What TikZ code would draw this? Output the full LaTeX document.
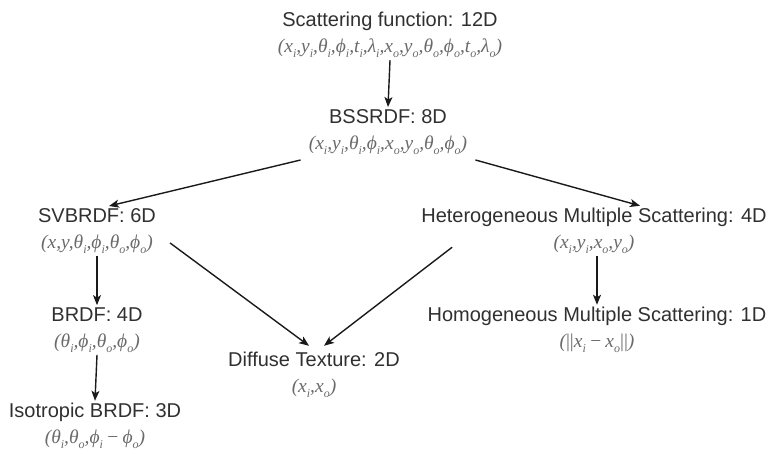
\documentclass[tikz,border=0pt]{standalone}
\usepackage{fontspec}
\setmainfont{Liberation Sans}
\newfontfamily\varfont{Liberation Serif}
\usetikzlibrary{arrows.meta,calc}
\definecolor{titlegray}{HTML}{303030}
\definecolor{mathgray}{HTML}{6A6A6A}
\definecolor{linegray}{HTML}{1A1A1A}
% italic variable with a lowered subscript
\newcommand{\vsub}[2]{#1\raisebox{-0.28em}{\fontsize{12}{12}\selectfont#2}}
% second line of every entry: the list of variables
\newcommand{\vars}[1]{{\color{mathgray}\varfont\itshape\fontsize{19.5}{19.5}\selectfont#1}}
\begin{document}
\begin{tikzpicture}[x=1pt,y=-1pt,
  entry/.style={align=center,inner sep=2pt,text=titlegray,
    font=\fontsize{20}{26}\selectfont},
  arr/.style={draw=linegray,line width=1.4pt,
    -{Stealth[length=10pt,width=8pt,inset=2.5pt]}}]
\useasboundingbox (0,0) rectangle (773,453);

% levels of the taxonomy
\node[entry] (scat) at (390,35) {Scattering function: 12D\\
  \vars{(\vsub{x}{i},\vsub{y}{i},\vsub{θ}{i},\vsub{ϕ}{i},\vsub{t}{i},\vsub{λ}{i},\vsub{x}{o},\vsub{y}{o},\vsub{θ}{o},\vsub{ϕ}{o},\vsub{t}{o},\vsub{λ}{o})}};
\node[entry] (bss) at (388,132) {BSSRDF: 8D\\
  \vars{(\vsub{x}{i},\vsub{y}{i},\vsub{θ}{i},\vsub{ϕ}{i},\vsub{x}{o},\vsub{y}{o},\vsub{θ}{o},\vsub{ϕ}{o})}};
\node[entry] (sv) at (97,231) {SVBRDF: 6D\\
  \vars{(x,y,\vsub{θ}{i},\vsub{ϕ}{i},\vsub{θ}{o},\vsub{ϕ}{o})}};
\node[entry] (het) at (594,231) {Heterogeneous Multiple Scattering: 4D\\
  \vars{(\vsub{x}{i},\vsub{y}{i},\vsub{x}{o},\vsub{y}{o})}};
\node[entry] (brdf) at (97,330) {BRDF: 4D\\
  \vars{(\vsub{θ}{i},\vsub{ϕ}{i},\vsub{θ}{o},\vsub{ϕ}{o})}};
\node[entry] (iso) at (95,426) {Isotropic BRDF: 3D\\
  \vars{(\vsub{θ}{i},\vsub{θ}{o},\vsub{ϕ}{i}\,−\,\vsub{ϕ}{o})}};
\node[entry] (diff) at (314,375) {Diffuse Texture: 2D\\
  \vars{(\vsub{x}{i},\vsub{x}{o})}};
\node[entry] (hom) at (597,330) {Homogeneous Multiple Scattering: 1D\\
  \vars{({\upshape||}\vsub{x}{i}\,−\,\vsub{x}{o}{\upshape||})}};

% connectors
\draw[arr] (scat.south) -- (bss.north);
\draw[arr] ([shift={(-6,3)}]bss.south west) -- ([xshift=12pt]sv.north);
\draw[arr] ([shift={(6,3)}]bss.south east) -- ([xshift=46pt]het.north);
\draw[arr] (sv.south) -- (brdf.north);
\draw[arr] (brdf.south) -- (iso.north);
\draw[arr] ([shift={(12,12)}]sv.east) -- ([shift={(-5,-4)}]diff.north);
\draw[arr] ([shift={(33,-9)}]het.south west) -- ([shift={(10,-4)}]diff.north);
\draw[arr] ([xshift=3pt]het.south) -- (hom.north);
\end{tikzpicture}
\end{document}
